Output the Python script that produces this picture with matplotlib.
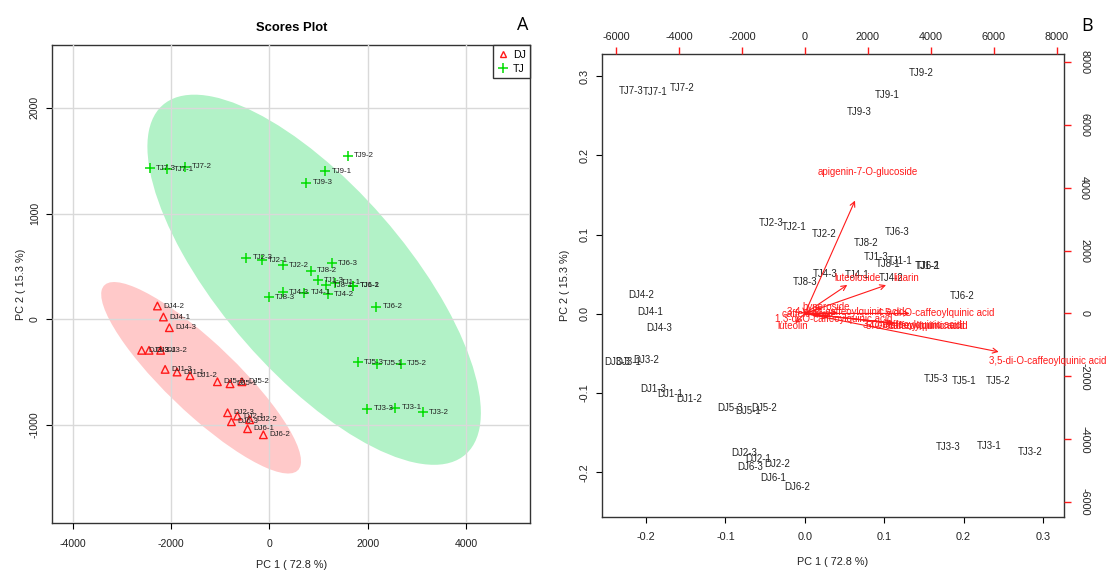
import numpy as np
import matplotlib.pyplot as plt
from matplotlib.patches import Ellipse
from matplotlib.lines import Line2D

plt.rcParams['font.family'] = ['Liberation Sans', 'DejaVu Sans']
plt.rcParams['axes.unicode_minus'] = False

# ---- panel A: PCA scores ----
dj_names = ['DJ1-1', 'DJ1-2', 'DJ1-3', 'DJ2-1', 'DJ2-2', 'DJ2-3',
            'DJ3-1', 'DJ3-2', 'DJ3-3', 'DJ4-1', 'DJ4-2', 'DJ4-3',
            'DJ5-1', 'DJ5-2', 'DJ5-3', 'DJ6-1', 'DJ6-2', 'DJ6-3']
dj_x = [-1877, -1613, -2120, -649, -400, -849,
        -2448, -2212, -2598, -2155, -2277, -2034,
        -799, -557, -1056, -442, -121, -771]
dj_y = [-498, -533, -473, -914, -949, -883,
        -293, -293, -293, 22, 126, -79,
        -609, -590, -590, -1034, -1091, -968]

tj_names = ['TJ1-1', 'TJ1-2', 'TJ1-3', 'TJ2-1', 'TJ2-2', 'TJ2-3',
            'TJ3-1', 'TJ3-2', 'TJ3-3', 'TJ4-1', 'TJ4-2', 'TJ4-3',
            'TJ5-1', 'TJ5-2', 'TJ5-3', 'TJ6-1', 'TJ6-2', 'TJ6-3',
            'TJ7-1', 'TJ7-2', 'TJ7-3', 'TJ8-1', 'TJ8-2', 'TJ8-3',
            'TJ9-1', 'TJ9-2', 'TJ9-3']
tj_x = [1335, 1706, 985, -157, 271, -471,
        2562, 3126, 1991, 714, 1192, 271,
        2191, 2676, 1806, 1712, 2177, 1277,
        -2077, -1713, -2426, 1156, 849, -14,
        1142, 1599, 749]
tj_y = [346, 318, 369, 560, 510, 582,
        -838, -876, -845, 251, 239, 258,
        -422, -422, -406, 316, 119, 529,
        1418, 1443, 1430, 324, 459, 208,
        1399, 1544, 1291]

# ---- panel B: biplot (scaled scores + loadings) ----
b_names = dj_names + tj_names
b_x = [-0.1697, -0.1455, -0.1907, -0.059, -0.0352, -0.0765,
       -0.2225, -0.1995, -0.236, -0.1951, -0.2061, -0.1837,
       -0.0713, -0.0510, -0.0941, -0.0396, -0.0097, -0.069,
       0.1199, 0.1546, 0.0896, -0.0132, 0.0246, -0.0422,
       0.2319, 0.2838, 0.181, 0.0659, 0.1090, 0.0258,
       0.2, 0.2434, 0.1652, 0.1550, 0.1977, 0.1168,
       -0.1881, -0.1552, -0.2193, 0.1054, 0.0777, 0.0,
       0.1037, 0.1463, 0.0685]
b_y = [-0.1009, -0.1077, -0.0955, -0.1829, -0.1892, -0.1762,
       -0.061, -0.0585, -0.061, 0.0020, 0.0231, -0.0177,
       -0.1228, -0.119, -0.119, -0.2068, -0.219, -0.1934,
       0.0668, 0.0605, 0.0719, 0.1092, 0.1009, 0.1143,
       -0.1673, -0.1749, -0.1682, 0.0483, 0.0449, 0.0504,
       -0.0845, -0.0845, -0.082, 0.0602, 0.0222, 0.1038,
       0.2799, 0.2850, 0.2816, 0.0631, 0.0899, 0.0404,
       0.2757, 0.3043, 0.2547]

load_names = ['apigenin-7-O-glucoside', 'luteoloside', 'linarin',
              '3,5-di-O-caffeoylquinic acid', 'hyperoside', 'caffeic acid',
              '3,4-di-O-caffeoylquinic acid', '4,5-di-O-caffeoylquinic acid',
              '1,3-di-O-caffeoylquinic acid', 'luteolin',
              '5-O-caffeoylquinic acid', '3-O-caffeoylquinic acid',
              '4-O-caffeoylquinic acid']
load_x = [1993, 1685, 3226, 7704, 687, 30, 1306, 4167, 925, -378, 3497, 3402, 3594]
load_y = [4483, 1132, 1125, -1526, 210, -30, 32, 0, -165, -388, -388, -372, -404]

red = '#ff1a1a'
green = '#00dd00'

fig = plt.figure(figsize=(11.07, 5.72), dpi=100)

# ================= A =================
axA = fig.add_axes([0.0472, 0.0851, 0.4318, 0.8357])


def conf_ellipse(ax, x, y, color):
    cov = np.cov(x, y)
    vals, vecs = np.linalg.eigh(cov)
    angle = np.degrees(np.arctan2(vecs[1, 1], vecs[0, 1]))
    k = 2.4477  # sqrt(qchisq(0.95, 2))
    e = Ellipse((np.mean(x), np.mean(y)), 2 * k * np.sqrt(vals[1]), 2 * k * np.sqrt(vals[0]),
                angle=angle, facecolor=color, edgecolor='none', zorder=1)
    ax.add_patch(e)


conf_ellipse(axA, dj_x, dj_y, '#ffc9c9')
conf_ellipse(axA, tj_x, tj_y, '#b2f2c7')

axA.set_xlim(-4417, 5310)
axA.set_ylim(-1928, 2590)
axA.set_xticks([-4000, -2000, 0, 2000, 4000])
axA.set_yticks([-1000, 0, 1000, 2000])
axA.grid(True, color='#d9d9d9', lw=1)
axA.set_axisbelow(False)
for g in axA.get_xgridlines() + axA.get_ygridlines():
    g.set_zorder(1.5)

axA.scatter(dj_x, dj_y, marker='^', facecolors='none', edgecolors=red, s=30, lw=1, zorder=3)
axA.scatter(tj_x, tj_y, marker='+', color=green, s=50, lw=1.1, zorder=3)
for n, x, y in zip(dj_names + tj_names, dj_x + tj_x, dj_y + tj_y):
    axA.annotate(n, (x, y), xytext=(4.5, 0), textcoords='offset points',
                 ha='left', va='center', fontsize=5.7, color='#222222', zorder=4)

axA.set_title('Scores Plot', fontweight='bold', fontsize=9.4, pad=10)
axA.set_xlabel('PC 1 ( 72.8 %)', fontsize=7.8, labelpad=8, color='#222222')
axA.set_ylabel('PC 2 ( 15.3 %)', fontsize=7.8, labelpad=3, color='#222222')
axA.tick_params(axis='x', length=4, pad=7, labelsize=7.6, labelcolor='#222222')
axA.tick_params(axis='y', length=4, pad=5, labelsize=7.6, labelrotation=90, labelcolor='#222222')
for lab in axA.get_yticklabels():
    lab.set_va('center')
for s in axA.spines.values():
    s.set_linewidth(1)
    s.set_color('#333333')

handles = [Line2D([], [], marker='^', mfc='none', mec=red, ls='none', ms=5, mew=1),
           Line2D([], [], marker='+', color=green, ls='none', ms=7, mew=1.1)]
leg = axA.legend(handles, ['DJ', 'TJ'], loc='upper right', borderaxespad=0, fancybox=False,
                 edgecolor='#333333', framealpha=1, fontsize=7.6, handlelength=0.9,
                 handletextpad=0.5, borderpad=0.45, labelspacing=0.35)
leg.get_frame().set_linewidth(1)
fig.text(522.6 / 1107, 1 - 25 / 572, 'A', fontsize=13, ha='center', va='center', family='Open Sans')

# ================= B =================
rectB = [0.5437, 0.0967, 0.4174, 0.8084]
axB = fig.add_axes(rectB)
axB.set_xlim(-0.2557, 0.3264)
axB.set_ylim(-0.256, 0.3274)
axB.set_xticks([-0.2, -0.1, 0.0, 0.1, 0.2, 0.3])
axB.set_yticks([-0.2, -0.1, 0.0, 0.1, 0.2, 0.3])
axB.set_xticklabels(['-0.2', '-0.1', '0.0', '0.1', '0.2', '0.3'])
axB.set_yticklabels(['-0.2', '-0.1', '0.0', '0.1', '0.2', '0.3'])
for n, x, y in zip(b_names, b_x, b_y):
    axB.text(x, y, n, ha='center', va='center', fontsize=6.9, color='#222222')
axB.set_xlabel('PC 1 ( 72.8 %)', fontsize=7.8, labelpad=11, color='#222222')
axB.set_ylabel('PC 2 ( 15.3 %)', fontsize=7.8, labelpad=7, color='#222222')
axB.tick_params(axis='x', length=4, pad=7, labelsize=7.8, labelcolor='#222222')
axB.tick_params(axis='y', length=4, pad=5, labelsize=7.8, labelrotation=90, labelcolor='#222222')
for lab in axB.get_yticklabels():
    lab.set_va('center')
for s in axB.spines.values():
    s.set_linewidth(1)
    s.set_color('#333333')

axS = fig.add_axes(rectB, frameon=False)
axS.set_xlim(-6452, 8236)
axS.set_ylim(-6458, 8235)
axS.xaxis.tick_top()
axS.yaxis.tick_right()
axS.set_xticks(np.arange(-6000, 8001, 2000))
axS.set_yticks(np.arange(-6000, 8001, 2000))
axS.tick_params(axis='x', length=5, width=1, pad=4, color=red, labelsize=7.8, labelcolor='#222222')
axS.tick_params(axis='y', length=5, width=1, pad=6, color=red, labelsize=7.8, labelcolor='#222222',
                labelrotation=270)
for lab in axS.get_yticklabels():
    lab.set_va('center')
axS.patch.set_alpha(0)

for n, x, y in zip(load_names, load_x, load_y):
    axS.annotate('', xy=(0.8 * x, 0.8 * y), xytext=(0, 0),
                 arrowprops=dict(arrowstyle='->', color=red, lw=0.8, mutation_scale=9,
                                 shrinkA=0, shrinkB=0))
    axS.text(x, y, n, ha='center', va='center', fontsize=7, color=red)

fig.text(1086.7 / 1107, 1 - 26 / 572, 'B', fontsize=13, ha='center', va='center', family='Open Sans')

fig.savefig('out.png', dpi=100)
